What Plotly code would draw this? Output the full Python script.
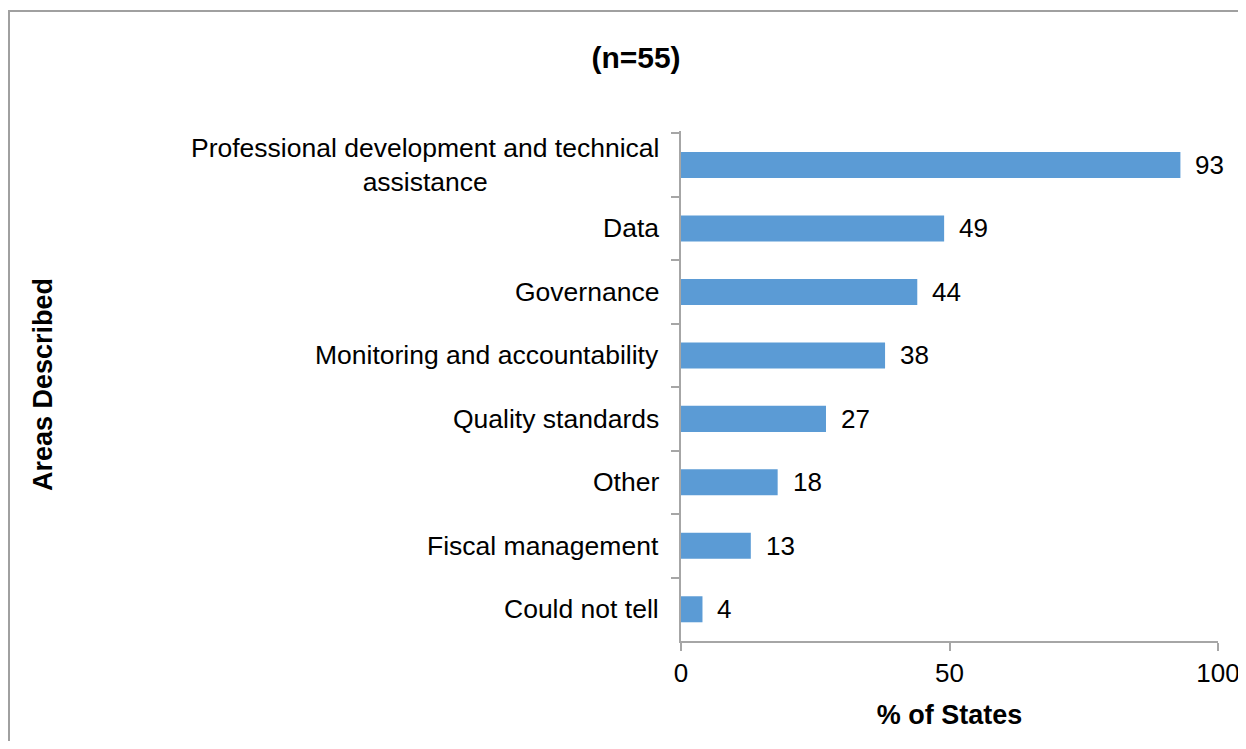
import plotly.graph_objects as go

categories = [
    "Professional development and technical<br>assistance",
    "Data",
    "Governance",
    "Monitoring and accountability",
    "Quality standards",
    "Other",
    "Fiscal management",
    "Could not tell",
]
values = [93, 49, 44, 38, 27, 18, 13, 4]
x_ticks = [0, 50, 100]
title_text = "(n=55)"
x_title = "% of States"
y_title = "Areas Described"

# page body has an 8px margin; figure coordinates = reference pixel - OFF
OFF = 8
W, H = 1246 - OFF, 749 - 2 * OFF
L = 681 - OFF
T = 131 - OFF
R = W - (1218 - OFF)
B = H - (641 - OFF)
pw, ph = W - L - R, H - T - B

FONT = "Liberation Sans, Arial, sans-serif"
AXC = "#a6a6a6"


def px_x(xr):
    return (xr - OFF - L) / pw


def px_y(yr):
    return (H - B - (yr - OFF)) / ph


fig = go.Figure(go.Bar(
    x=values, y=categories, orientation="h",
    marker=dict(color="#5B9BD5", line=dict(width=0)),
    width=0.41, hoverinfo="skip",
))

annotations = []
for c in categories:
    annotations.append(dict(
        x=0, xref="paper", y=c, yref="y", text=c, showarrow=False,
        xanchor="right", yanchor="middle", align="center", xshift=-20,
        font=dict(family=FONT, size=26.5, color="#000"),
    ))
for c, v in zip(categories, values):
    annotations.append(dict(
        x=v, xref="x", y=c, yref="y", text=str(v), showarrow=False,
        xanchor="left", yanchor="middle", xshift=13,
        font=dict(family=FONT, size=26, color="#000"),
    ))
annotations.append(dict(
    x=px_x(43), xref="paper", y=px_y(385), yref="paper",
    text="<b>" + y_title + "</b>", textangle=-90, showarrow=False,
    xanchor="center", yanchor="middle",
    font=dict(family=FONT, size=27, color="#000"),
))

fig.update_layout(
    width=W, height=H,
    margin=dict(l=L, r=R, t=T, b=B, autoexpand=False),
    paper_bgcolor="white", plot_bgcolor="white",
    showlegend=False,
    title=dict(text="<b>" + title_text + "</b>", x=(636 - OFF) / W, xanchor="center",
               y=1 - (57 - OFF) / H, yanchor="middle",
               font=dict(family=FONT, size=30, color="#000")),
    xaxis=dict(
        range=[0, 100], tickvals=x_ticks, ticktext=[str(t) for t in x_ticks],
        automargin=False,
        showgrid=False, zeroline=False, showline=True, linecolor=AXC, linewidth=1.5,
        ticks="outside", ticklen=8, tickcolor=AXC, tickwidth=1.5,
        ticklabeloverflow="allow",
        tickfont=dict(family=FONT, size=26, color="#000"),
        title=dict(text="<b>" + x_title + "</b>", standoff=18,
                   font=dict(family=FONT, size=27, color="#000")),
    ),
    yaxis=dict(
        categoryorder="array", categoryarray=categories, autorange="reversed",
        automargin=False,
        showticklabels=False, showgrid=False, zeroline=False,
        showline=True, linecolor=AXC, linewidth=1.5,
        ticks="outside", tickson="boundaries", ticklen=8, tickcolor=AXC, tickwidth=1.5,
    ),
    annotations=annotations,
    shapes=[dict(
        type="rect", xref="paper", yref="paper",
        x0=px_x(9), x1=px_x(1400),
        y0=px_y(900), y1=px_y(11),
        line=dict(color="#a0a0a0", width=2), fillcolor="rgba(0,0,0,0)", layer="below",
    )],
)

fig.write_html("out.html")
